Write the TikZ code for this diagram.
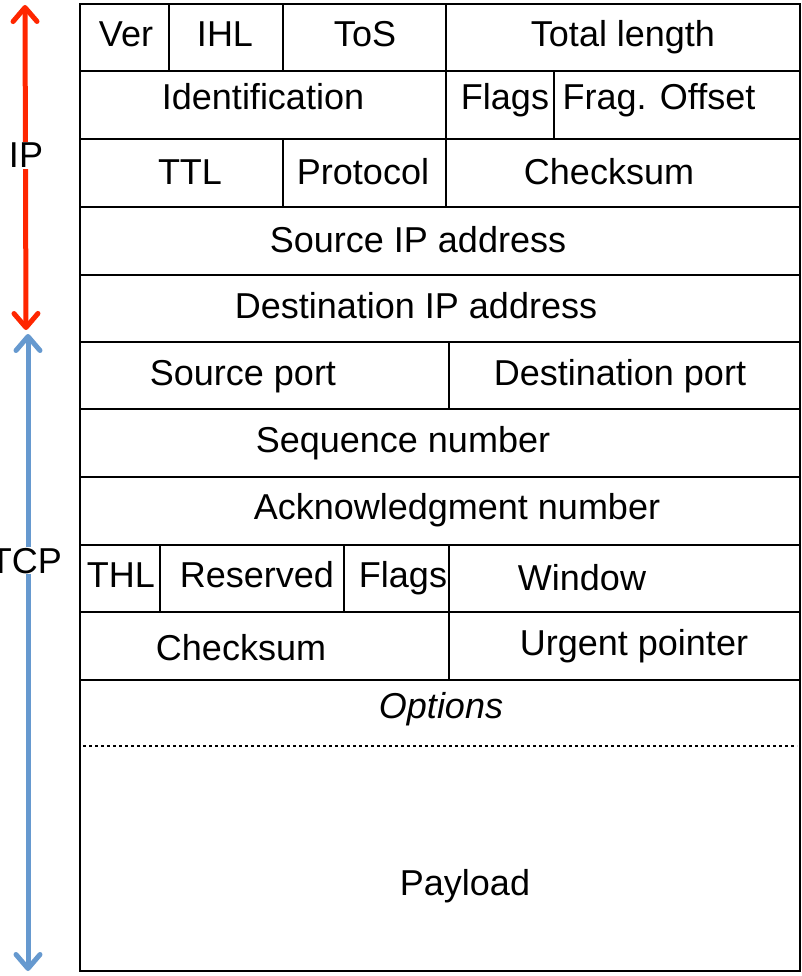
\documentclass[tikz,border=0pt]{standalone}
\usepackage{fontspec}
\setmainfont{Liberation Sans}
\usetikzlibrary{arrows.meta}

\definecolor{ipred}{RGB}{255,38,0}
\definecolor{tcpblue}{RGB}{102,153,207}

\begin{document}
\begin{tikzpicture}[
  x=1pt, y=-1pt,
  font=\fontsize{36}{43}\selectfont,
  field/.style={anchor=base, inner sep=0pt},
  rule/.style={line width=2.6pt},
  span/.style={line width=5pt, {Straight Barb[length=14pt, width=24pt, round]}-{Straight Barb[length=14pt, width=24pt, round]}},
  side/.style={anchor=base, fill=white, inner sep=1pt}
]
\useasboundingbox (0,0) rectangle (802,976);

% header frame
\draw[rule] (80,4) rectangle (800,971);
\foreach \y in {71,139,207,275,342,409,477,545,612,680}{\draw[rule] (80,\y) -- (800,\y);}
\foreach \x/\ya/\yb in {169/4/71, 283/4/71, 446/4/71, 446/71/139, 554/71/139,
  283/139/207, 446/139/207, 449/342/409, 160/545/612, 344/545/612, 449/545/612, 449/612/680}
  {\draw[rule] (\x,\ya) -- (\x,\yb);}
\draw[line width=2.2pt, dash pattern=on 2.5pt off 3.5pt] (83,746) -- (797,746);

% fields
\foreach \n/\x/\y/\t in {ver/126/47/Ver, ihl/225/47/IHL, tos/365/47/ToS, totlen/623/47/Total length,
  ident/263/110/Identification, ipflags/505/110/Flags, fragoff/659/110/Frag. Offset,
  ttl/190/185/TTL, proto/363/185/Protocol, ipcsum/609/185/Checksum,
  srcip/418/252/Source IP address, dstip/416/318/Destination IP address,
  srcport/243/385/Source port, dstport/620/385/Destination port,
  seq/403/452/Sequence number, ack/457/519/Acknowledgment number,
  thl/121/587/THL, resvd/257/587/Reserved, tcpflags/403/587/Flags, window/582/590/Window,
  tcpcsum/241/660/Checksum, urgent/634/655/Urgent pointer,
  payload/465/895/Payload}
  {\node[field] (\n) at (\x,\y) {\t};}
\node[field, font=\fontsize{36}{43}\selectfont\itshape] (options) at (441,718) {Options};

% layer spans
\coordinate (iptop) at (25,5);
\coordinate (ipbot) at (26,330);
\coordinate (tcptop) at (28,334);
\coordinate (tcpbot) at (28,971);
\draw[span, ipred] (ipbot) -- (iptop);
\draw[span, tcpblue] (tcptop) -- (tcpbot);
\node[side] (iplbl) at (26,168) {IP};
\node[side] (tcplbl) at (26,573) {TCP};
\end{tikzpicture}
\end{document}
